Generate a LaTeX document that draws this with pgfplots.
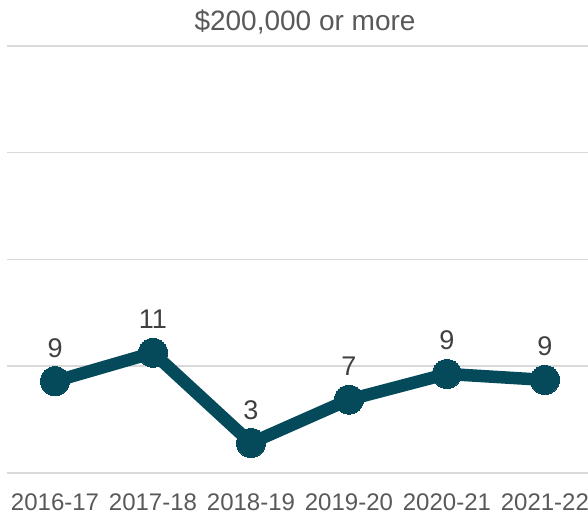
\documentclass[border=0pt]{standalone}
\usepackage{fontspec}
\setmainfont{Liberation Sans}
\usepackage{pgfplots}
\pgfplotsset{compat=1.18}
\definecolor{lineteal}{HTML}{044A5B}
\definecolor{gridgray}{HTML}{D9D9D9}
\definecolor{txtgray}{HTML}{595959}
\definecolor{lblgray}{HTML}{404040}
\begin{document}
\begin{tikzpicture}[x=1pt,y=1pt]
\path[use as bounding box] (-7,-43) rectangle (581,473);
\begin{axis}[
  at={(0,0)}, anchor=south west,
  scale only axis, width=581pt, height=427pt,
  xmin=-0.49, xmax=5.44, ymin=0, ymax=40,
  axis line style={draw=none},
  ytick={0,10,20,30,40}, yticklabels={},
  xtick={0,1,2,3,4,5},
  xticklabels={2016-17,2017-18,2018-19,2019-20,2020-21,2021-22},
  major tick length=0pt,
  ymajorgrids, grid style={gridgray, line width=1.5pt},
  xticklabel style={font=\fontsize{24}{24}\selectfont, text=txtgray, anchor=base, yshift=-37pt},
  title={\$200,000 or more},
  title style={font=\fontsize{28}{28}\selectfont, text=txtgray, at={(axis description cs:0.513,1)}, anchor=base, yshift=9pt},
  clip=false,
  point meta=explicit symbolic,
  nodes near coords,
  nodes near coords style={font=\fontsize{27}{27}\selectfont, text=lblgray, anchor=base, yshift=24pt},
]
\addplot[lineteal, line width=12.5pt, mark=*, mark size=14.5pt,
  mark options={fill=lineteal, draw=none, line width=0pt}]
  table[meta=lbl] {
x y lbl
0 8.6 9
1 11.26 11
2 2.81 3
3 6.87 7
4 9.28 9
5 8.72 9
};
\end{axis}
\end{tikzpicture}
\end{document}
